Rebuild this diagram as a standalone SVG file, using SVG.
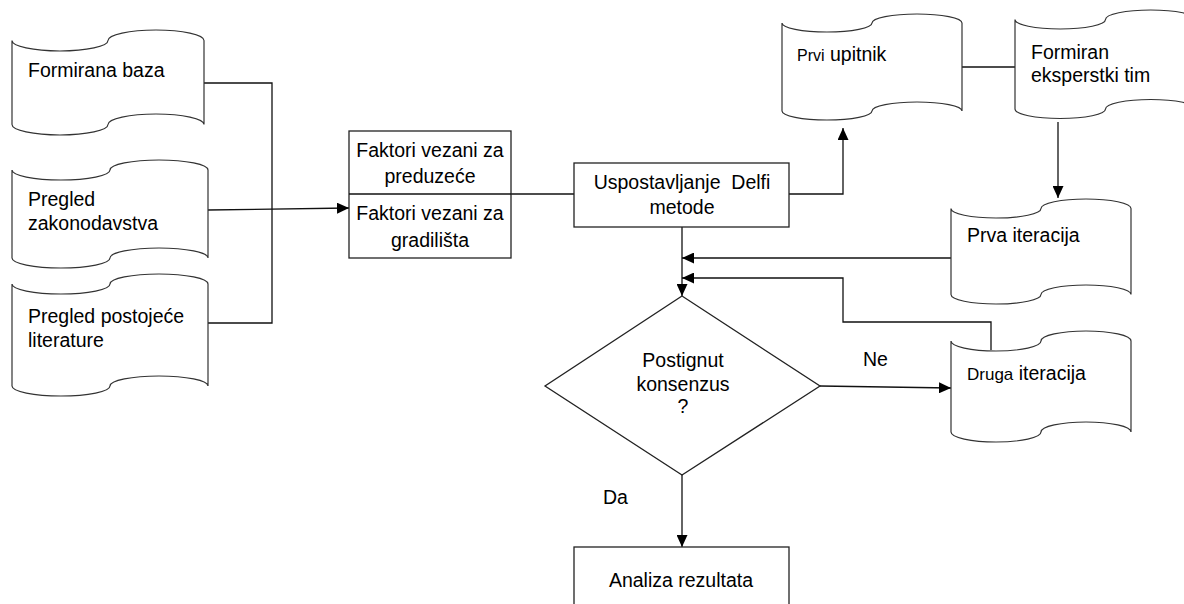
<svg xmlns="http://www.w3.org/2000/svg" width="1184" height="604" viewBox="0 0 1184 604">
<style>
.sh{fill:#fff;stroke:#333;stroke-width:1.2}
.bx{fill:#fff;stroke:#222;stroke-width:1.3}
.ln{fill:none;stroke:#111;stroke-width:1.3}
text{font-family:"Liberation Sans",Arial,sans-serif;font-size:19.5px;fill:#000}
.c{text-anchor:middle}
.sm{font-size:16px}
.md{font-size:17px}
</style>
<defs>
<marker id="ah" markerUnits="userSpaceOnUse" markerWidth="12" markerHeight="11" refX="12" refY="5.5" orient="auto">
<path d="M0,0 L12,5.5 L0,11 Z" fill="#000"/>
</marker>
</defs>
<rect width="1184" height="604" fill="#fff"/>

<g id="connectors">
<path class="ln" d="M204,83 H272 V323 H208"/>
<path class="ln" d="M208,210 L349,208" marker-end="url(#ah)"/>
<path class="ln" d="M511,194 H574"/>
<path class="ln" d="M789,194 H843 V128" marker-end="url(#ah)"/>
<path class="ln" d="M962,67 H1015"/>
<path class="ln" d="M1058,122 V198" marker-end="url(#ah)"/>
<path class="ln" d="M951,258 L682,258" marker-end="url(#ah)"/>
<path class="ln" d="M682,227 L682,296" marker-end="url(#ah)"/>
<path class="ln" d="M991,350 V322 H843 V278 H682" marker-end="url(#ah)"/>
<path class="ln" d="M820,386 L951,388" marker-end="url(#ah)"/>
<path class="ln" d="M682,475 V547" marker-end="url(#ah)"/>
</g>

<g id="formirana-baza">
<path class="sh" d="M12,40.5 A48,10.5 0 0 0 108,40.5 A48,10.5 0 0 1 204,40.5 L204,124.5 A48,10.5 0 0 0 108,124.5 A48,10.5 0 0 1 12,124.5 Z"/>
<text x="28" y="77">Formirana baza</text>
</g>

<g id="pregled-zakonodavstva">
<path class="sh" d="M12,170 A49,10 0 0 0 110,170 A49,10 0 0 1 208,170 L208,258 A49,10 0 0 0 110,258 A49,10 0 0 1 12,258 Z"/>
<text x="28" y="206">Pregled</text>
<text x="28" y="230">zakonodavstva</text>
</g>

<g id="pregled-literature">
<path class="sh" d="M12,284 A49,10 0 0 0 110,284 A49,10 0 0 1 208,284 L208,386 A49,10 0 0 0 110,386 A49,10 0 0 1 12,386 Z"/>
<text x="28" y="323">Pregled postojeće</text>
<text x="28" y="347">literature</text>
</g>

<g id="faktori">
<rect class="bx" x="349" y="131" width="162" height="127"/>
<line class="ln" x1="349" y1="194" x2="511" y2="194"/>
<text class="c" x="430" y="157">Faktori vezani za</text>
<text class="c" x="430" y="183">preduzeće</text>
<text class="c" x="430" y="220">Faktori vezani za</text>
<text class="c" x="430" y="247">gradilišta</text>
</g>

<g id="delfi">
<rect class="bx" x="574" y="163" width="215" height="64"/>
<text class="c" x="682" y="189" xml:space="preserve">Uspostavljanje  Delfi</text>
<text class="c" x="682" y="214">metode</text>
</g>

<g id="prvi-upitnik">
<path class="sh" d="M782,23 A45,9 0 0 0 872,23 A45,9 0 0 1 962,23 L962,111 A45,9 0 0 0 872,111 A45,9 0 0 1 782,111 Z"/>
<text x="797" y="61"><tspan class="sm">Prvi</tspan> upitnik</text>
</g>

<g id="formiran-tim">
<path class="sh" d="M1015,19.5 A45.25,9.5 0 0 0 1105.5,19.5 A45.25,9.5 0 0 1 1196,19.5 L1196,109 A45.25,9.5 0 0 0 1105.5,109 A45.25,9.5 0 0 1 1015,109 Z"/>
<text x="1031" y="59">Formiran</text>
<text x="1031" y="82">eksperstki tim</text>
</g>

<g id="prva-iteracija">
<path class="sh" d="M951,208.5 A45,9.5 0 0 0 1041,208.5 A45,9.5 0 0 1 1131,208.5 L1131,294.5 A45,9.5 0 0 0 1041,294.5 A45,9.5 0 0 1 951,294.5 Z"/>
<text x="967" y="242">Prva iteracija</text>
</g>

<g id="druga-iteracija">
<path class="sh" d="M951,341 A45,10 0 0 0 1041,341 A45,10 0 0 1 1131,341 L1131,432 A45,10 0 0 0 1041,432 A45,10 0 0 1 951,432 Z"/>
<text x="967" y="380"><tspan class="md">Druga</tspan> iteracija</text>
</g>

<g id="konsenzus">
<polygon class="bx" points="682,296 820,386 682,475 545,386"/>
<text class="c" x="683" y="367">Postignut</text>
<text class="c" x="683" y="391">konsenzus</text>
<text class="c" x="683" y="413">?</text>
</g>

<g id="analiza">
<rect class="bx" x="574" y="547" width="215" height="70"/>
<text class="c" x="681" y="587">Analiza rezultata</text>
</g>

<g id="labels">
<text x="863" y="366">Ne</text>
<text x="603" y="504">Da</text>
</g>
</svg>
